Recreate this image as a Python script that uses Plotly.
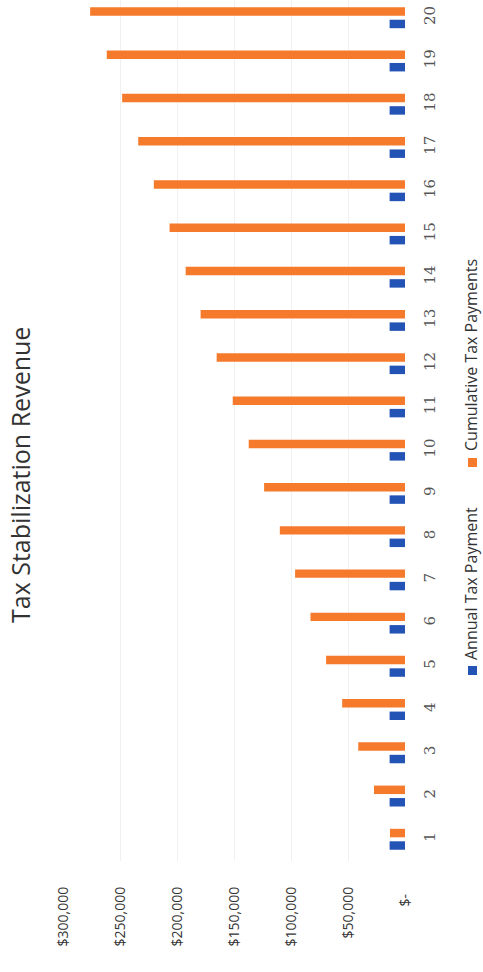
import plotly.graph_objects as go

years = list(range(1, 21))
annual = [13500] * 20
cumulative = [13200, 27200, 41000, 55100, 69200, 82900, 96400, 109800, 123600, 137100,
              151100, 165200, 179300, 192400, 206500, 220300, 234000, 248100, 261600, 276200]
value_ticks = [0, 50000, 100000, 150000, 200000, 250000, 300000]
value_labels = ["$-\u00a0\u00a0", "$50,000", "$100,000", "$150,000", "$200,000", "$250,000", "$300,000"]

W, H = 483, 972
L, R, T, B = 63, 78, 0, 111
pw, ph = W - L - R, H - T - B

def px(x):
    return (x - L) / pw

def py(y):
    return (H - B - y) / ph

BLUE = "#2453B6"
ORANGE = "#F57A2B"

fig = go.Figure()
fig.add_trace(go.Bar(y=years, x=annual, orientation="h", name="Annual Tax Payment",
                     marker=dict(color=BLUE, line=dict(width=0))))
fig.add_trace(go.Bar(y=years, x=cumulative, orientation="h", name="Cumulative Tax Payments",
                     marker=dict(color=ORANGE, line=dict(width=0))))

fig.update_layout(
    width=W, height=H,
    margin=dict(l=L, r=R, t=T, b=B, pad=0),
    paper_bgcolor="white", plot_bgcolor="white",
    barmode="group", bargap=0.424, bargroupgap=0.32,
    showlegend=False,
    font=dict(family="Open Sans", color="#333"),
)
fig.update_xaxes(range=[300000, 0], tickvals=value_ticks, ticktext=value_labels,
                 tickangle=-90, side="bottom", showgrid=True, gridcolor="#f1f1f1", gridwidth=1,
                 zeroline=False, showline=False, ticks="", ticklabelstandoff=22,
                 tickfont=dict(family="Open Sans", size=14, color="#333"))
fig.update_yaxes(range=[0.498, 20.41], tickvals=years, ticktext=[str(v) for v in years],
                 side="right", tickangle=-90, showgrid=False, zeroline=False, showline=False,
                 ticks="", ticklabelstandoff=14,
                 tickfont=dict(family="DejaVu Serif", size=15, color="#555"))

fig.add_annotation(text="Tax Stabilization Revenue", textangle=-90, showarrow=False,
                   xref="paper", yref="paper", x=px(20), y=py(475),
                   xanchor="center", yanchor="middle",
                   font=dict(family="Open Sans", size=25, color="#333"))
fig.add_annotation(text="Annual Tax Payment", textangle=-90, showarrow=False,
                   xref="paper", yref="paper", x=px(471), y=py(584),
                   xanchor="center", yanchor="middle",
                   font=dict(family="Open Sans", size=16, color="#333"))
fig.add_annotation(text="Cumulative Tax Payments", textangle=-90, showarrow=False,
                   xref="paper", yref="paper", x=px(471), y=py(355),
                   xanchor="center", yanchor="middle",
                   font=dict(family="Open Sans", size=16, color="#333"))
fig.add_shape(type="rect", xref="paper", yref="paper", x0=px(468), x1=px(477),
              y0=py(675), y1=py(666), fillcolor=BLUE, line=dict(width=0))
fig.add_shape(type="rect", xref="paper", yref="paper", x0=px(468), x1=px(477),
              y0=py(467), y1=py(458), fillcolor=ORANGE, line=dict(width=0))

fig.write_html("out.html")
